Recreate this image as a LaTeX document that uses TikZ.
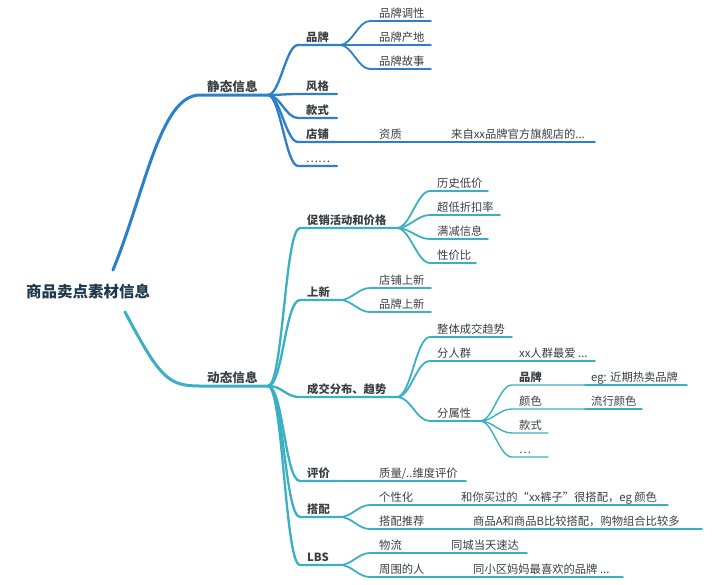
\documentclass[tikz,border=0pt]{standalone}
\usepackage{fontspec}
\setmainfont{Noto Sans CJK SC}
\definecolor{sblue}{HTML}{2B7FCB}
\definecolor{dteal}{HTML}{3AB0C3}
\definecolor{txt}{HTML}{3A3F44}
\definecolor{roottxt}{HTML}{1F3A4C}
\newcommand\mmitem[6]{%
  \coordinate (#1-s) at (#2,#3);
  \coordinate (#1-e) at (#4,#3);
  \node[lbl] (#1) at (#5,#3-3.8) {#6};}
\tikzset{
  lbl/.style={anchor=base west,inner sep=0pt,text=txt,font=\fontsize{11.3}{13}\selectfont},
  br/.style={to path={.. controls +(#1,0) and +(-#1,0) .. (\tikztotarget)}},
  br/.default=13,
  lone/.style={line width=3pt,line cap=round},
  ltwo/.style={line width=2.3pt,line cap=round},
  lthree/.style={line width=1.8pt,line cap=round},
  lfour/.style={line width=1.4pt,line cap=round},
}
\begin{document}
\begin{tikzpicture}[x=1pt,y=-1pt]
\path[use as bounding box,fill=white] (0,0) rectangle (720,584);
% root
\node[anchor=west,inner sep=0pt,text=roottxt,font=\fontsize{15.5}{18}\selectfont\bfseries] (root) at (26,292) {商品卖点素材信息};
\coordinate (root-u) at (113,270);
\coordinate (root-d) at (125,312);
% ---------- static ----------
\mmitem{S}{200}{95}{268}{207}{\fontsize{12.6}{14}\selectfont\bfseries 静态信息}
\draw[sblue,lone] (root-u) .. controls (145,192) and (160,95) .. (S-s) -- (S-e);
\mmitem{B}{298}{45}{340}{306}{\bfseries 品牌}
\mmitem{FG}{298}{94}{337}{306}{\bfseries 风格}
\mmitem{KS}{298}{118}{337}{306}{\bfseries 款式}
\mmitem{DP}{298}{142}{337}{306}{\bfseries 店铺}
\mmitem{DOT}{298}{166}{337}{306}{……}
\foreach \c in {B,FG,KS,DP,DOT}
  \draw[sblue,ltwo] (S-e) to[br=12] (\c-s) -- (\c-e);
\mmitem{B1}{370}{21}{431}{379}{品牌调性}
\mmitem{B2}{370}{45}{431}{379}{品牌产地}
\mmitem{B3}{370}{69}{431}{379}{品牌故事}
\foreach \c in {B1,B2,B3}
  \draw[sblue,lthree] (B-e) to[br=12] (\c-s) -- (\c-e);
\mmitem{ZZ}{337}{142}{407}{379}{资质}
\mmitem{ZZa}{407}{142}{595}{451}{来自xx品牌官方旗舰店的...}
\draw[sblue,lthree] (DP-e) -- (ZZ-s) -- (ZZ-e);
\draw[sblue,lfour] (ZZ-e) -- (ZZa-s) -- (ZZa-e);
% ---------- dynamic ----------
\mmitem{D}{200}{386}{268}{207}{\fontsize{12.6}{14}\selectfont\bfseries 动态信息}
\draw[dteal,lone] (root-d) .. controls (160,378) and (168,386) .. (D-s) -- (D-e);
\mmitem{P}{300}{228}{397}{307}{\bfseries 促销活动和价格}
\mmitem{N}{300}{300}{340}{307}{\bfseries 上新}
\mmitem{T}{300}{397}{397}{307}{\bfseries 成交分布、趋势}
\mmitem{R}{300}{481}{340}{307}{\bfseries 评价}
\mmitem{M}{300}{517}{340}{307}{\bfseries 搭配}
\mmitem{L}{300}{565}{340}{307}{\bfseries LBS}
\foreach \c in {P,N,T,R,M,L}
  \draw[dteal,ltwo] (D-e) to[br=15] (\c-s) -- (\c-e);
% promo
\mmitem{P1}{430}{191}{488}{437}{历史低价}
\mmitem{P2}{430}{215}{500}{437}{超低折扣率}
\mmitem{P3}{430}{239}{488}{437}{满减信息}
\mmitem{P4}{430}{263}{476}{437}{性价比}
\foreach \c in {P1,P2,P3,P4}
  \draw[dteal,lthree] (P-e) to[br=13] (\c-s) -- (\c-e);
% new
\mmitem{N1}{370}{288}{431}{379}{店铺上新}
\mmitem{N2}{370}{312}{431}{379}{品牌上新}
\foreach \c in {N1,N2}
  \draw[dteal,lthree] (N-e) to[br=12] (\c-s) -- (\c-e);
% trade
\mmitem{T1}{430}{337}{512}{437}{整体成交趋势}
\mmitem{T2}{430}{361}{512}{437}{分人群}
\mmitem{T3}{430}{421}{480}{437}{分属性}
\foreach \c in {T1,T2,T3}
  \draw[dteal,lthree] (T-e) to[br=14] (\c-s) -- (\c-e);
\mmitem{T2a}{512}{361}{595}{519}{xx人群最爱 ...}
\draw[dteal,lfour] (T2-e) -- (T2a-s) -- (T2a-e);
\mmitem{A1}{512}{385}{585}{519}{\bfseries 品牌}
\mmitem{A2}{512}{409}{585}{519}{颜色}
\mmitem{A3}{512}{433}{548}{519}{款式}
\mmitem{A4}{512}{457}{548}{519}{…}
\foreach \c in {A1,A2,A3,A4}
  \draw[dteal,lfour] (T3-e) to[br=13] (\c-s) -- (\c-e);
\mmitem{A1a}{585}{385}{687}{591}{eg: 近期热卖品牌}
\mmitem{A2a}{585}{409}{642}{591}{流行颜色}
\draw[dteal,lfour] (A1-e) -- (A1a-s) -- (A1a-e);
\draw[dteal,lfour] (A2-e) -- (A2a-s) -- (A2a-e);
% review
\mmitem{R1}{340}{481}{466}{379}{质量/..维度评价}
\draw[dteal,lthree] (R-e) -- (R1-s) -- (R1-e);
% match
\mmitem{M1}{370}{505}{455}{379}{个性化}
\mmitem{M2}{370}{529}{465}{379}{搭配推荐}
\foreach \c in {M1,M2}
  \draw[dteal,lthree] (M-e) to[br=12] (\c-s) -- (\c-e);
\mmitem{M1a}{455}{505}{668}{461}{和你买过的“xx裤子”很搭配，eg 颜色}
\mmitem{M2a}{465}{529}{702}{473}{商品A和商品B比较搭配，购物组合比较多}
\draw[dteal,lfour] (M1-e) -- (M1a-s) -- (M1a-e);
\draw[dteal,lfour] (M2-e) -- (M2a-s) -- (M2a-e);
% LBS
\mmitem{L1}{370}{553}{445}{379}{物流}
\mmitem{L2}{370}{577}{465}{379}{周围的人}
\foreach \c in {L1,L2}
  \draw[dteal,lthree] (L-e) to[br=12] (\c-s) -- (\c-e);
\mmitem{L1a}{445}{553}{527}{451}{同城当天速达}
\mmitem{L2a}{465}{577}{623}{473}{同小区妈妈最喜欢的品牌 ...}
\draw[dteal,lfour] (L1-e) -- (L1a-s) -- (L1a-e);
\draw[dteal,lfour] (L2-e) -- (L2a-s) -- (L2a-e);
\end{tikzpicture}
\end{document}
